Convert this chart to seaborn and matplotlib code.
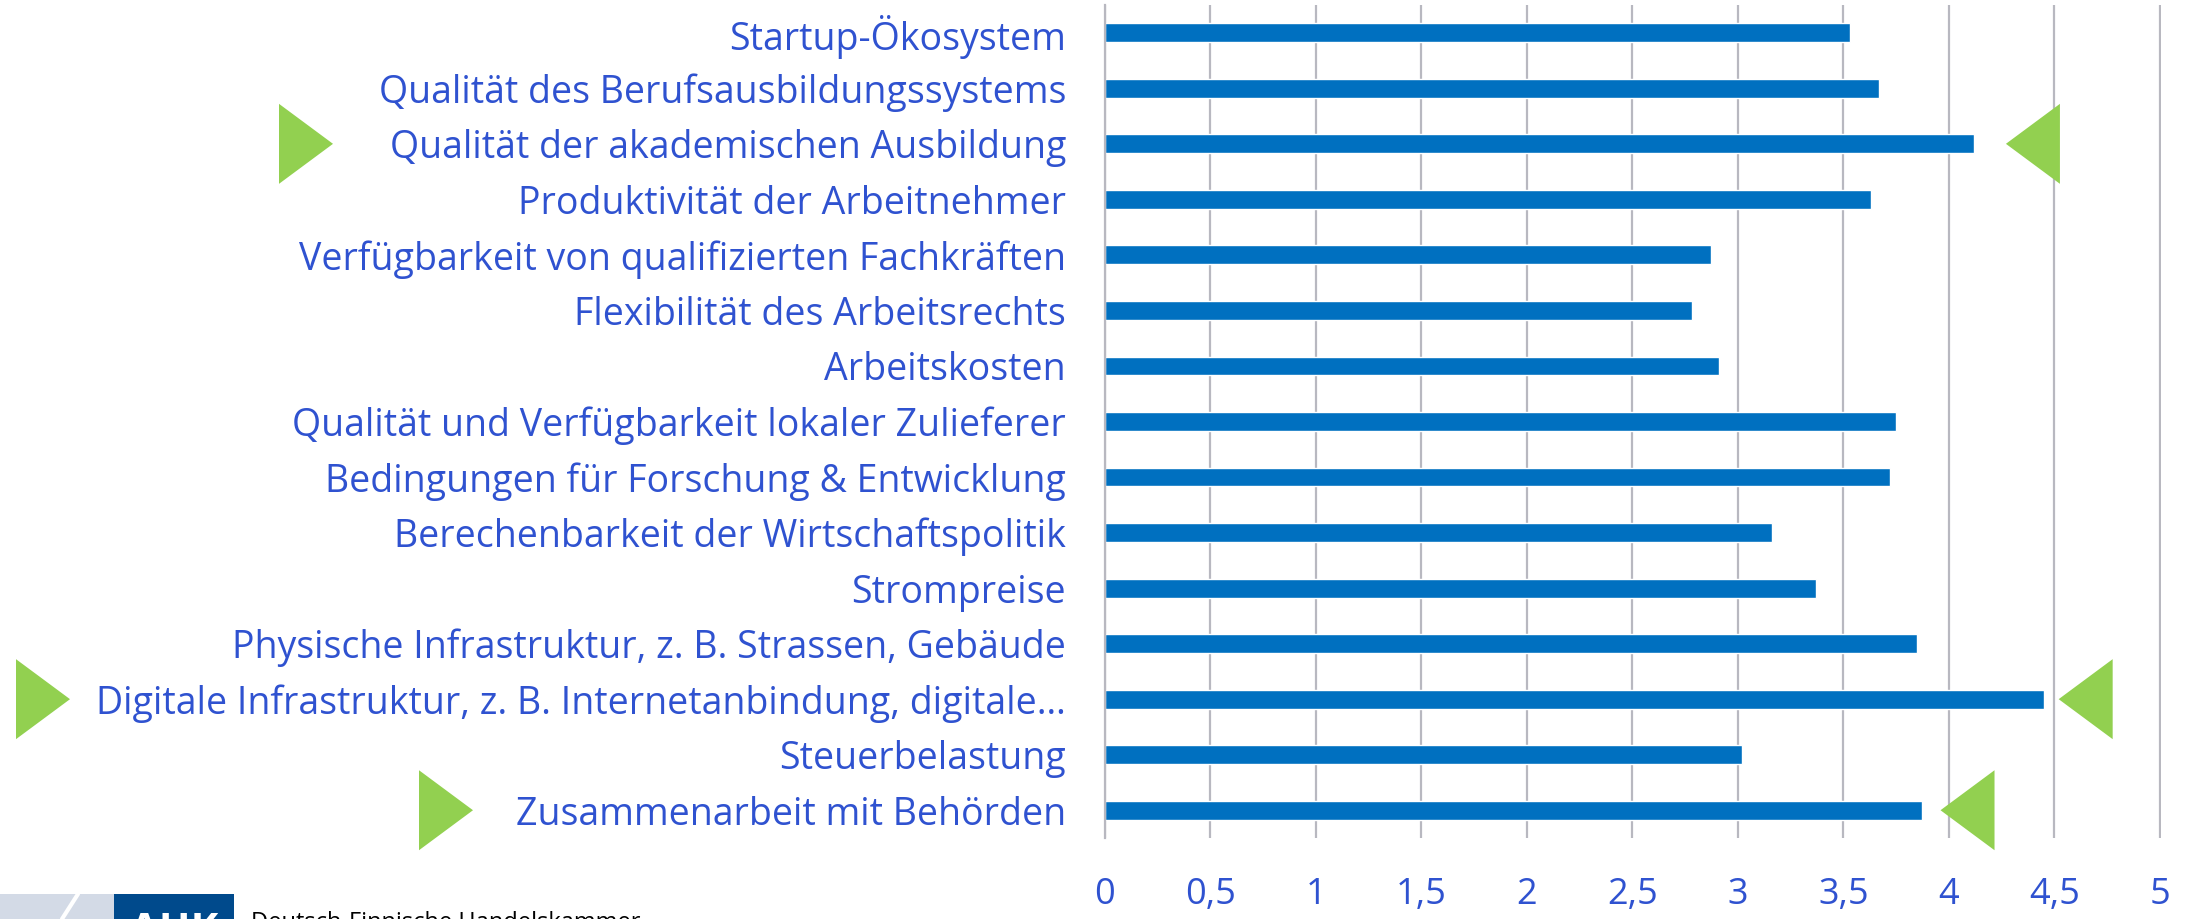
import matplotlib
matplotlib.use("Agg")
import matplotlib.pyplot as plt
import seaborn as sns
import pandas as pd
from matplotlib.patches import Polygon, Rectangle
from matplotlib.transforms import IdentityTransform

# ---------------------------
# Data
# ---------------------------
factors = [
    "Startup-Ökosystem",
    "Qualität des Berufsausbildungssystems",
    "Qualität der akademischen Ausbildung",
    "Produktivität der Arbeitnehmer",
    "Verfügbarkeit von qualifizierten Fachkräften",
    "Flexibilität des Arbeitsrechts",
    "Arbeitskosten",
    "Qualität und Verfügbarkeit lokaler Zulieferer",
    "Bedingungen für Forschung & Entwicklung",
    "Berechenbarkeit der Wirtschaftspolitik",
    "Strompreise",
    "Physische Infrastruktur, z. B. Strassen, Gebäude",
    "Digitale Infrastruktur, z. B. Internetanbindung, digitale…",
    "Steuerbelastung",
    "Zusammenarbeit mit Behörden",
]
scores = [3.53, 3.67, 4.12, 3.63, 2.87, 2.78, 2.91, 3.75, 3.72,
          3.16, 3.37, 3.85, 4.45, 3.02, 3.87]

x_ticks = [0, 0.5, 1, 1.5, 2, 2.5, 3, 3.5, 4, 4.5, 5]
x_tick_labels = ["0", "0,5", "1", "1,5", "2", "2,5", "3", "3,5", "4", "4,5", "5"]

# highlighted factors: left marker tip (pixels from left), right marker tip (score units)
highlights = {
    "Qualität der akademischen Ausbildung": (333, 4.27),
    "Digitale Infrastruktur, z. B. Internetanbindung, digitale…": (70, 4.52),
    "Zusammenarbeit mit Behörden": (473, 3.96),
}

df = pd.DataFrame({"factor": factors, "score": scores})

# ---------------------------
# Style
# ---------------------------
sns.set_theme(style="white")
plt.rcParams["font.family"] = ["Open Sans", "DejaVu Sans"]

BAR_BLUE = "#0070C0"
TEXT_BLUE = "#2F52D0"
GRID_GRAY = "#B8B8C0"
GREEN = "#92D050"

W, H = 2187, 919
fig = plt.figure(figsize=(W / 100, H / 100), dpi=100)
ax = fig.add_axes([1105 / W, 1 - 838 / H, (2161 - 1105) / W, (838 - 5) / H])

sns.barplot(data=df, x="score", y="factor", color=BAR_BLUE, saturation=1,
            width=0.34, ax=ax)

ax.set_xlim(0, 5.005)
ax.set_ylim(len(factors) - 0.5, -0.5)
ax.set_xticks(x_ticks, x_tick_labels)
ax.xaxis.grid(True, color=GRID_GRAY, linewidth=1.6)
ax.set_axisbelow(True)
for side in ["top", "right", "bottom"]:
    ax.spines[side].set_visible(False)
ax.spines["left"].set_color(GRID_GRAY)
ax.spines["left"].set_linewidth(1.6)
ax.tick_params(axis="x", length=0, pad=28, labelsize=26, labelcolor=TEXT_BLUE)
ax.tick_params(axis="y", length=0, pad=28, labelsize=27, labelcolor=TEXT_BLUE)
ax.set_xlabel("")
ax.set_ylabel("")

# ---------------------------
# Green triangle markers
# ---------------------------
tw, th = 54, 40
for name, (left_tip, right_val) in highlights.items():
    i = factors.index(name)
    rx, cy = ax.transData.transform((right_val, i))
    left = [(left_tip - tw, cy + th), (left_tip, cy), (left_tip - tw, cy - th)]
    right = [(rx, cy), (rx + tw, cy + th), (rx + tw, cy - th)]
    for verts in (left, right):
        fig.add_artist(Polygon(verts, closed=True, facecolor=GREEN,
                               edgecolor="none", transform=IdentityTransform()))

# ---------------------------
# Logo strip (cut off at the bottom edge, as in the source slide)
# ---------------------------
fig.add_artist(Rectangle((0, 0), 114 / W, 25 / H, transform=fig.transFigure,
                         facecolor="#D3DAE6", edgecolor="none"))
fig.add_artist(Rectangle((114 / W, 0), 120 / W, 25 / H, transform=fig.transFigure,
                         facecolor="#004A8C", edgecolor="none"))
fig.lines.append(plt.Line2D([62 / W, 78 / W], [0, 25 / H], transform=fig.transFigure,
                            color="white", linewidth=3))
fig.text(174 / W, 1 - 912 / H, "AHK", color="white", fontsize=30,
         fontweight="bold", ha="center", va="top")
fig.text(251 / W, 1 - 911 / H, "Deutsch-Finnische Handelskammer", color="black",
         fontsize=17, ha="left", va="top")

fig.savefig("out.png", dpi=100, facecolor="white")
